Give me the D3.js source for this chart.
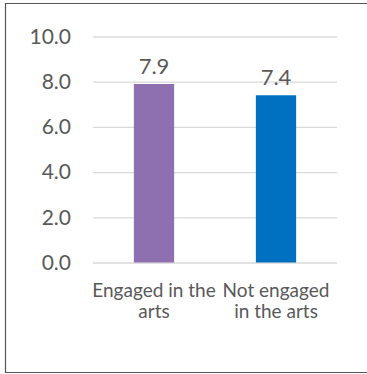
<!DOCTYPE html>
<html>
<head>
<meta charset="utf-8">
<script src="https://cdn.jsdelivr.net/npm/d3@7"></script>
<style>
  body { margin: 0; background: #fff; }
  text { font-family: Lato, "Open Sans", sans-serif; fill: #595959; }
</style>
</head>
<body>
<script>
// chart data
const categories = [['Engaged in the', 'arts'], ['Not engaged', 'in the arts']]
const values = [7.9, 7.4]
const colors = ['#8E6FAF', '#0070C0']
const tickValues = [0, 2, 4, 6, 8, 10]

const w = 367
const h = 374

const margin = { top: 36.5, bottom: 111.5, left: 93, right: 30 }

const svg = d3.select('body')
  .append('svg')
  .attr('width', w)
  .attr('height', h)

// outer frame (right edge is cropped in the reference)
svg.append('path')
  .attr('d', `M${w + 2},3.5 H5.5 V372.5 H${w + 2}`)
  .style('fill', 'none')
  .style('stroke', '#555')
  .style('stroke-width', 1.2)

const xScale = d3.scaleBand()
  .domain(d3.range(values.length))
  .range([margin.left, w - margin.right])
  .paddingInner(0.67)
  .paddingOuter(0.335)

const yScale = d3.scaleLinear()
  .domain([0, 10])
  .range([h - margin.bottom, margin.top])

// gridlines + y labels
const yAxis = d3.axisLeft(yScale)
  .tickValues(tickValues)
  .tickSize(-(w - margin.right - margin.left))
  .tickPadding(22)
  .tickFormat(d3.format('.1f'))

const yG = svg.append('g')
  .attr('transform', `translate(${margin.left},0)`)
  .call(yAxis)

yG.select('.domain').remove()
yG.selectAll('.tick line')
  .style('stroke', '#d9d9d9')
  .style('stroke-width', 1.3)
yG.selectAll('.tick text')
  .style('font-size', '21px')
  .style('fill', '#595959')

// bars
svg.selectAll('rect.bar')
  .data(values)
  .enter()
  .append('rect')
  .attr('class', 'bar')
  .attr('x', (d, i) => xScale(i))
  .attr('y', d => yScale(d))
  .attr('width', xScale.bandwidth())
  .attr('height', d => yScale(0) - yScale(d))
  .style('fill', (d, i) => colors[i])

// value labels
svg.selectAll('text.value')
  .data(values)
  .enter()
  .append('text')
  .attr('class', 'value')
  .attr('x', (d, i) => xScale(i) + xScale.bandwidth() / 2)
  .attr('y', d => yScale(d) - 10)
  .attr('text-anchor', 'middle')
  .style('font-size', '22px')
  .text(d => d3.format('.1f')(d))

// category labels
const cat = svg.selectAll('text.cat')
  .data(categories)
  .enter()
  .append('text')
  .attr('class', 'cat')
  .attr('text-anchor', 'middle')
  .style('font-size', '19px')

cat.each(function(lines, i) {
  const cx = xScale(i) + xScale.bandwidth() / 2
  lines.forEach((line, j) => {
    d3.select(this)
      .append('tspan')
      .attr('x', cx)
      .attr('y', yScale(0) + 34 + j * 21)
      .text(line)
  })
})
</script>
</body>
</html>
